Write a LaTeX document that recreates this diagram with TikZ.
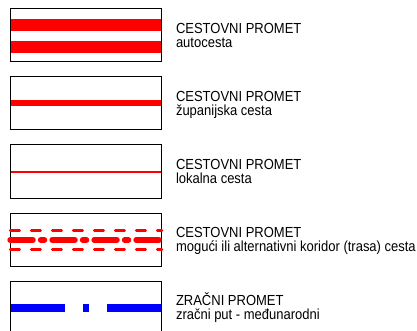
\documentclass[tikz,border=0pt]{standalone}
\usepackage{fontspec}
\setmainfont{Liberation Sans}[FakeStretch=0.89]
\begin{document}
\begin{tikzpicture}[x=1pt,y=-1pt,
  legbox/.style={draw=black, line width=1pt, minimum width=151pt, minimum height=53pt, inner sep=0pt, outer sep=0pt, fill=none},
  lbl/.style={anchor=base west, inner sep=0pt, outer sep=0pt, font=\fontsize{14.6}{16}\selectfont},
  redbar/.style={red, line width=12pt},
  redmid/.style={red, line width=6pt},
  redthin/.style={red, line width=2pt},
  reddash/.style={red, line width=2.5pt, line cap=round, dash pattern=on 9.5pt off 11.5pt},
  reddashdot/.style={red, line width=6pt, line cap=round, dash pattern=on 22.5pt off 8pt on 3.5pt off 8pt},
  airway/.style={blue, line width=8pt}
]
\useasboundingbox (0,0) rectangle (417,331);
\clip (0,0) rectangle (417,331);

% box 1: autocesta
\draw[redbar] (10.5,25) -- (161.5,25);
\draw[redbar] (10.5,46.7) -- (161.5,46.7);
\node[legbox] (b1) at (86,35.5) {};
\node[lbl] (t1a) at (176,33.8) {CESTOVNI PROMET};
\node[lbl] (t1b) at (176,47.8) {autocesta};

% box 2: zupanijska cesta
\draw[redmid] (10.5,103.3) -- (161.5,103.3);
\node[legbox] (b2) at (86,103.5) {};
\node[lbl] (t2a) at (176,101.8) {CESTOVNI PROMET};
\node[lbl] (t2b) at (176,115.8) {županijska cesta};

% box 3: lokalna cesta
\draw[redthin] (10.5,172) -- (161.5,172);
\node[legbox] (b3) at (86,171.5) {};
\node[lbl] (t3a) at (176,169.8) {CESTOVNI PROMET};
\node[lbl] (t3b) at (176,183.8) {lokalna cesta};

% box 4: moguci koridor
\node[legbox] (b4) at (86,239.5) {};
\draw[reddash] (10.2,230.3) -- (162,230.3);
\draw[reddash] (10.2,249.5) -- (162,249.5);
\draw[reddashdot] (10.3,240) -- (160.5,240);
\node[lbl] (t4a) at (176,237.8) {CESTOVNI PROMET};
\node[lbl] (t4b) at (176,251.8) {mogući ili alternativni koridor (trasa) cesta};

% box 5: zracni put
\draw[airway] (10.5,308.2) -- (65,308.2);
\draw[airway] (83,308.2) -- (89,308.2);
\draw[airway] (106.7,308.2) -- (161.5,308.2);
\node[legbox] (b5) at (86,307.5) {};
\node[lbl] (t5a) at (176,305.8) {ZRAČNI PROMET};
\node[lbl] (t5b) at (176,319.8) {zračni put - međunarodni};
\end{tikzpicture}
\end{document}
